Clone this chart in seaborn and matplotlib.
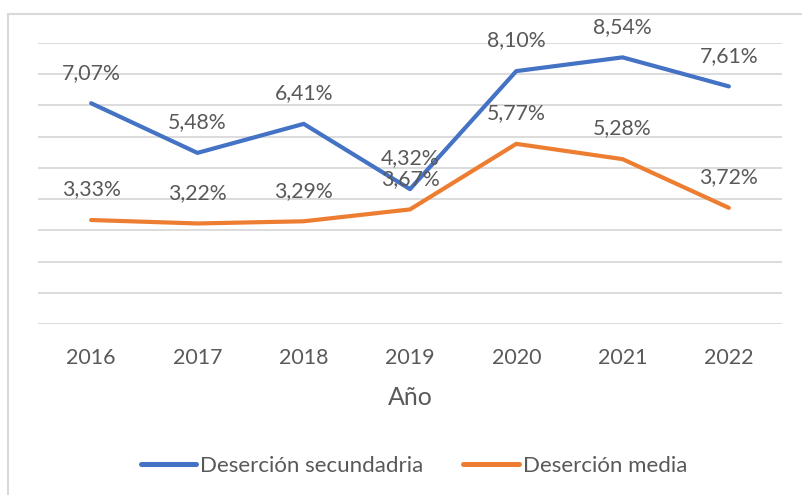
import pandas as pd
import matplotlib.pyplot as plt
import seaborn as sns
from matplotlib.patches import Rectangle


years = ['2016', '2017', '2018', '2019', '2020', '2021', '2022']
secundaria = [7.07, 5.48, 6.41, 4.32, 8.10, 8.54, 7.61]
media = [3.33, 3.22, 3.29, 3.67, 5.77, 5.28, 3.72]
series_names = ['Deserción secundadria', 'Deserción media']
colors = ['#4472C4', '#ED7D31']

df = pd.DataFrame({
    'Año': years * 2,
    'valor': secundaria + media,
    'serie': [series_names[0]] * len(years) + [series_names[1]] * len(years),
})

sns.set_style('white')
plt.rcParams['font.family'] = ['Lato', 'DejaVu Sans']
text_color = '#595959'

fig = plt.figure(figsize=(8.02, 4.95), dpi=100)
ax = fig.add_axes([38 / 802, 1 - 324 / 495, 744 / 802, 281 / 495])

sns.lineplot(data=df, x='Año', y='valor', hue='serie', palette=colors,
             linewidth=3, ax=ax, legend=True)

# etiquetas de datos
for vals in (secundaria, media):
    for i, v in enumerate(vals):
        ax.annotate(f'{v:.2f}%'.replace('.', ','), (i, v), xytext=(0, 22),
                    textcoords='offset points', ha='center', va='center',
                    fontsize=15.3, color=text_color)

ax.set_xlim(-0.5, 6.5)
ax.set_ylim(0, 9)
ax.set_yticks(range(0, 10))
ax.set_yticklabels([])
ax.grid(axis='y', color='#D9D9D9', linewidth=1.3)
ax.set_axisbelow(True)
for s in ax.spines.values():
    s.set_visible(False)
ax.tick_params(axis='both', length=0)
ax.tick_params(axis='x', pad=17, labelsize=15.4, labelcolor=text_color)
ax.set_xlabel('Año', fontsize=18, color=text_color, labelpad=13)
ax.set_ylabel('')

handles, labels = ax.get_legend_handles_labels()
ax.legend_.remove()
leg = fig.legend(handles, labels, loc='center', bbox_to_anchor=(414 / 802, 1 - 466 / 495),
                 ncol=2, frameon=False, fontsize=16, handlelength=2.5,
                 handletextpad=0.18, columnspacing=1.8)
for t in leg.get_texts():
    t.set_color(text_color)
for h in leg.get_lines():
    h.set_linewidth(3.6)

fig.patches.append(Rectangle((8 / 802, -0.1), 1.0, 1.1 - 14 / 495, transform=fig.transFigure,
                             fill=False, edgecolor='#D9D9D9', linewidth=1.5))

fig.savefig('out.png', dpi=100)
